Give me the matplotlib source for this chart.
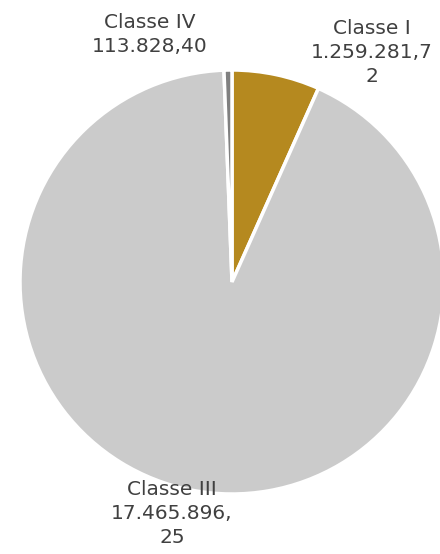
import matplotlib
matplotlib.use("Agg")
import matplotlib.pyplot as plt

categories = ["Classe I", "Classe III", "Classe IV"]
values = [1259281.72, 17465896.25, 113828.40]
value_labels = ["1.259.281,7\n2", "17.465.896,\n25", "113.828,40"]
colors = ["#B5891F", "#CBCBCB", "#808080"]

fig = plt.figure(figsize=(4.4, 5.54), dpi=100)
ax = fig.add_axes([0, 0, 1, 1])

cx, cy, r = 232, 272, 212
ax.pie(values, colors=colors, startangle=90, counterclock=False,
       center=(cx, cy), radius=r, frame=True,
       wedgeprops=dict(edgecolor="white", linewidth=2.5))
ax.set_xlim(0, 440)
ax.set_ylim(0, 554)
ax.set_aspect("equal")
ax.axis("off")

label_pos = {"Classe I": (372, 535), "Classe III": (172, 74), "Classe IV": (150, 541)}
for cat, lab in zip(categories, value_labels):
    x, y = label_pos[cat]
    ax.text(x, y, cat + "\n" + lab, ha="center", va="top", fontsize=14.5,
            color="#404040", linespacing=1.32, family="DejaVu Sans")

fig.savefig("out.png", dpi=100)
